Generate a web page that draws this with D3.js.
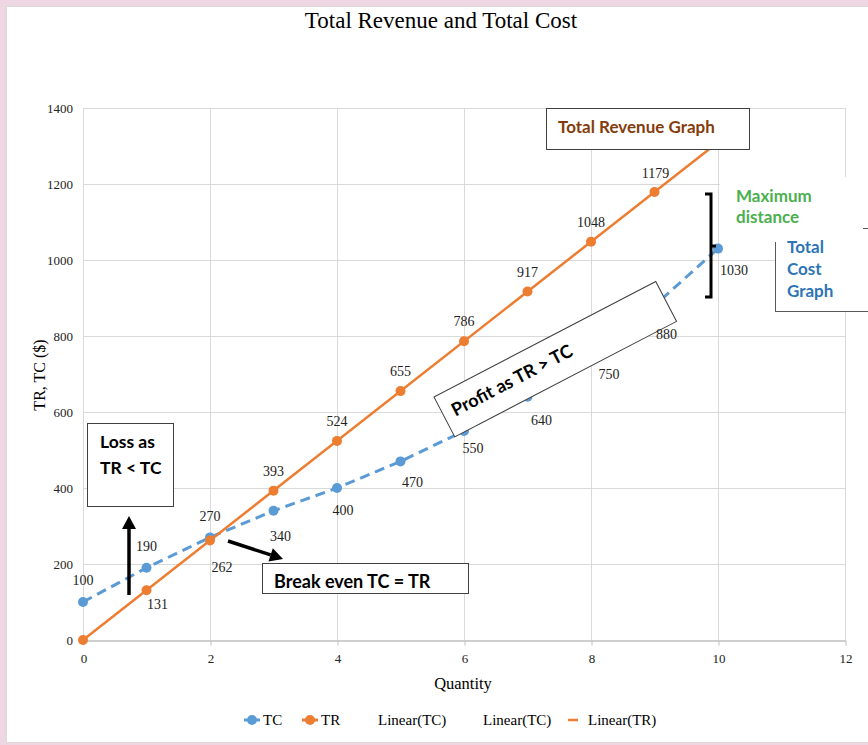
<!DOCTYPE html>
<html lang="en">
<head>
    <meta charset="UTF-8">
    <title>Total Revenue and Total Cost</title>
    <script src="https://cdn.jsdelivr.net/npm/d3@7/dist/d3.min.js"></script>
    <style>
        html, body { margin: 0; padding: 0; background: #eed6e2; }
        svg { display: block; }
    </style>
</head>
<body>
    <div id="root"></div>
    <script>
        // chart values
        const quantity = [0, 1, 2, 3, 4, 5, 6, 7, 8, 9, 10];
        const tc = [100, 190, 270, 340, 400, 470, 550, 640, 750, 880, 1030];
        const tr = [0, 131, 262, 393, 524, 655, 786, 917, 1048, 1179];
        // linear trendline of TR, forecast one step forward
        const trTrendX = [0, 10];
        const trTrendY = [0, 1310];
        const xTicks = [0, 2, 4, 6, 8, 10, 12];
        const yTicks = [0, 200, 400, 600, 800, 1000, 1200, 1400];

        // label placement (px offset of the label centre/baseline from its point)
        const tcLabelOffset = [[0, -17], [0, -17], [0, -16], [7, 30], [6, 27], [12, 26], [9, 22], [14, 28], [18, 24], [12, 33], [16, 26]];
        const trLabelOffset = [null, [11, 19], [12, 32], [0, -15], [0, -15], [0, -15], [0, -15], [0, -15], [0, -15], [1, -14]];

        const W = 868, H = 745;
        const blue = '#5b9bd5', orange = '#ed7d31';
        const serif = '"Liberation Serif", "Times New Roman", serif';
        const sans = 'Lato, "Open Sans", sans-serif';

        const svg = d3.select('#root').append('svg')
            .attr('width', W).attr('height', H);

        // chart panel
        svg.append('rect')
            .attr('x', 6.5).attr('y', 6.5)
            .attr('width', W + 10).attr('height', 736)
            .attr('fill', '#fff').attr('stroke', '#d9d9d9');

        const x = d3.scaleLinear().domain([0, 12]).range([83, 845]);
        const y = d3.scaleLinear().domain([0, 1400]).range([640, 108]);

        // title
        svg.append('text')
            .attr('x', 441).attr('y', 28)
            .attr('text-anchor', 'middle')
            .style('font-family', serif).style('font-size', '23px')
            .text('Total Revenue and Total Cost');

        // grid
        const grid = svg.append('g').attr('stroke', '#d9d9d9').attr('stroke-width', 1);
        grid.selectAll('.vg').data(xTicks).enter().append('line')
            .attr('x1', d => x(d) + 0.5).attr('x2', d => x(d) + 0.5)
            .attr('y1', y(1400)).attr('y2', y(0));
        grid.selectAll('.hg').data(yTicks.filter(d => d > 0)).enter().append('line')
            .attr('x1', x(0)).attr('x2', x(12))
            .attr('y1', d => y(d) + 0.5).attr('y2', d => y(d) + 0.5);

        // axes
        const gx = svg.append('g')
            .attr('transform', `translate(0.5,${y(0) + 0.5})`)
            .call(d3.axisBottom(x).tickValues(xTicks).tickSize(5).tickSizeOuter(0).tickPadding(8));
        gx.select('.domain').attr('stroke', '#bfbfbf').attr('stroke-width', 1.5);
        gx.selectAll('.tick line').attr('stroke', '#bfbfbf');
        gx.selectAll('text').style('font-family', serif).style('font-size', '13px').attr('fill', '#222');

        const gy = svg.append('g')
            .attr('transform', `translate(${x(0)},0)`)
            .call(d3.axisLeft(y).tickValues(yTicks).tickFormat(d3.format('d')).tickSize(0).tickPadding(10));
        gy.select('.domain').remove();
        gy.selectAll('text').style('font-family', serif).style('font-size', '13px').attr('fill', '#222');

        svg.append('text')
            .attr('transform', 'translate(45,375) rotate(-90)')
            .attr('text-anchor', 'middle')
            .style('font-family', serif).style('font-size', '16px')
            .text('TR, TC ($)');
        svg.append('text')
            .attr('x', 463).attr('y', 689)
            .attr('text-anchor', 'middle')
            .style('font-family', serif).style('font-size', '16.5px')
            .text('Quantity');

        // "Total Cost Graph" box and the white box behind "Maximum distance"
        svg.append('rect')
            .attr('x', 775.5).attr('y', 228.5).attr('width', 110).attr('height', 83)
            .attr('fill', '#fff').attr('stroke', '#595959');
        svg.append('rect')
            .attr('x', 720).attr('y', 177).attr('width', 143).attr('height', 65)
            .attr('fill', '#fff');
        svg.append('text')
            .attr('x', 736).attr('y', 202)
            .attr('fill', '#4caf50')
            .style('font-family', sans).style('font-size', '17px').style('font-weight', 'bold')
            .selectAll('tspan').data(['Maximum', 'distance']).enter().append('tspan')
            .attr('x', 736).attr('dy', (d, i) => i ? 21 : 0).text(d => d);
        svg.append('text')
            .attr('x', 787).attr('y', 253)
            .attr('fill', '#2e75b6')
            .style('font-family', sans).style('font-size', '17px').style('font-weight', 'bold')
            .selectAll('tspan').data(['Total', 'Cost', 'Graph']).enter().append('tspan')
            .attr('x', 787).attr('dy', (d, i) => i ? 22 : 0).text(d => d);

        // TC series: dashed line with markers
        const tcPts = quantity.map((q, i) => [q, tc[i]]);
        svg.append('path')
            .datum(tcPts)
            .attr('fill', 'none').attr('stroke', blue).attr('stroke-width', 3)
            .attr('stroke-dasharray', '10,6')
            .attr('d', d3.line().x(d => x(d[0])).y(d => y(d[1])));
        svg.selectAll('.tcdot').data(tcPts).enter().append('circle')
            .attr('cx', d => x(d[0])).attr('cy', d => y(d[1])).attr('r', 5)
            .attr('fill', blue);

        // TR series: trendline with markers
        const trPts = tr.map((v, i) => [quantity[i], v]);
        svg.append('path')
            .datum(trTrendX.map((q, i) => [q, trTrendY[i]]))
            .attr('fill', 'none').attr('stroke', orange).attr('stroke-width', 2.5)
            .attr('d', d3.line().x(d => x(d[0])).y(d => y(d[1])));
        svg.selectAll('.trdot').data(trPts).enter().append('circle')
            .attr('cx', d => x(d[0])).attr('cy', d => y(d[1])).attr('r', 5)
            .attr('fill', orange);

        // annotation boxes
        const boxStroke = '#404040';
        const profit = svg.append('g')
            .attr('transform', 'translate(557,356) rotate(-27.5)');
        profit.append('rect')
            .attr('x', -128).attr('y', -20.5).attr('width', 250).attr('height', 45)
            .attr('fill', '#fff').attr('stroke', boxStroke);
        profit.append('text')
            .attr('x', -118).attr('y', 7)
            .style('font-family', sans).style('font-size', '18px').style('font-weight', 'bold')
            .text('Profit as TR > TC');

        svg.append('rect')
            .attr('x', 546.5).attr('y', 108.5).attr('width', 203).attr('height', 41)
            .attr('fill', '#fff').attr('stroke', boxStroke);
        svg.append('text')
            .attr('x', 558).attr('y', 133)
            .attr('fill', '#843c0c')
            .style('font-family', sans).style('font-size', '17px').style('font-weight', 'bold')
            .text('Total Revenue Graph');

        svg.append('rect')
            .attr('x', 87.5).attr('y', 423.5).attr('width', 86).attr('height', 83)
            .attr('fill', '#fff').attr('stroke', boxStroke);
        svg.append('text')
            .attr('x', 100).attr('y', 448)
            .style('font-family', sans).style('font-size', '17.5px').style('font-weight', 'bold')
            .selectAll('tspan').data(['Loss as', 'TR < TC']).enter().append('tspan')
            .attr('x', 100).attr('dy', (d, i) => i ? 26 : 0).text(d => d);

        svg.append('rect')
            .attr('x', 262.5).attr('y', 563.5).attr('width', 206).attr('height', 30)
            .attr('fill', '#fff').attr('stroke', boxStroke);
        svg.append('text')
            .attr('x', 274).attr('y', 588)
            .style('font-family', sans).style('font-size', '18px').style('font-weight', 'bold')
            .text('Break even TC = TR');

        // data labels, kept on top of the shapes
        const labels = svg.append('g');
        const labelStyle = sel => sel
            .attr('text-anchor', 'middle')
            .style('font-family', serif).style('font-size', '14px').attr('fill', '#222');
        labels.selectAll('.tclab').data(tcPts).enter().append('text')
            .attr('x', (d, i) => x(d[0]) + tcLabelOffset[i][0])
            .attr('y', (d, i) => y(d[1]) + tcLabelOffset[i][1])
            .call(labelStyle)
            .text(d => d[1]);
        labels.selectAll('.trlab').data(trPts.filter((d, i) => trLabelOffset[i])).enter().append('text')
            .attr('x', d => x(d[0]) + trLabelOffset[d[0]][0])
            .attr('y', d => y(d[1]) + trLabelOffset[d[0]][1])
            .call(labelStyle)
            .text(d => d[1]);

        // arrows
        function arrow(x1, y1, x2, y2) {
            const a = Math.atan2(y2 - y1, x2 - x1);
            const hl = 13, hw = 7;
            const bx = x2 - hl * Math.cos(a), by = y2 - hl * Math.sin(a);
            svg.append('line')
                .attr('x1', x1).attr('y1', y1).attr('x2', bx).attr('y2', by)
                .attr('stroke', '#000').attr('stroke-width', 3.5);
            svg.append('path')
                .attr('d', `M${x2},${y2}L${bx - hw * Math.sin(a)},${by + hw * Math.cos(a)}L${bx + hw * Math.sin(a)},${by - hw * Math.cos(a)}Z`)
                .attr('fill', '#000');
        }
        arrow(129, 595, 129, 516);
        arrow(228, 541, 283, 559);

        // bracket for maximum distance
        svg.append('path')
            .attr('d', 'M705,194H711V297H705M711,246H716')
            .attr('fill', 'none').attr('stroke', '#000').attr('stroke-width', 3);

        // legend
        const legend = svg.append('g').style('font-family', serif).style('font-size', '15px');
        const ly = 720;
        [[252, blue, 'TC'], [310, orange, 'TR']].forEach(([lx, c, t]) => {
            legend.append('line').attr('x1', lx - 8).attr('x2', lx + 8).attr('y1', ly).attr('y2', ly)
                .attr('stroke', c).attr('stroke-width', 3);
            legend.append('circle').attr('cx', lx).attr('cy', ly).attr('r', 5).attr('fill', c);
            legend.append('text').attr('x', lx + 11).attr('y', ly + 5).text(t);
        });
        legend.append('text').attr('x', 378).attr('y', ly + 5).text('Linear(TC)');
        legend.append('text').attr('x', 483).attr('y', ly + 5).text('Linear(TC)');
        legend.append('line').attr('x1', 568).attr('x2', 578).attr('y1', ly).attr('y2', ly)
            .attr('stroke', orange).attr('stroke-width', 2.5);
        legend.append('text').attr('x', 588).attr('y', ly + 5).text('Linear(TR)');
    </script>
</body>
</html>
